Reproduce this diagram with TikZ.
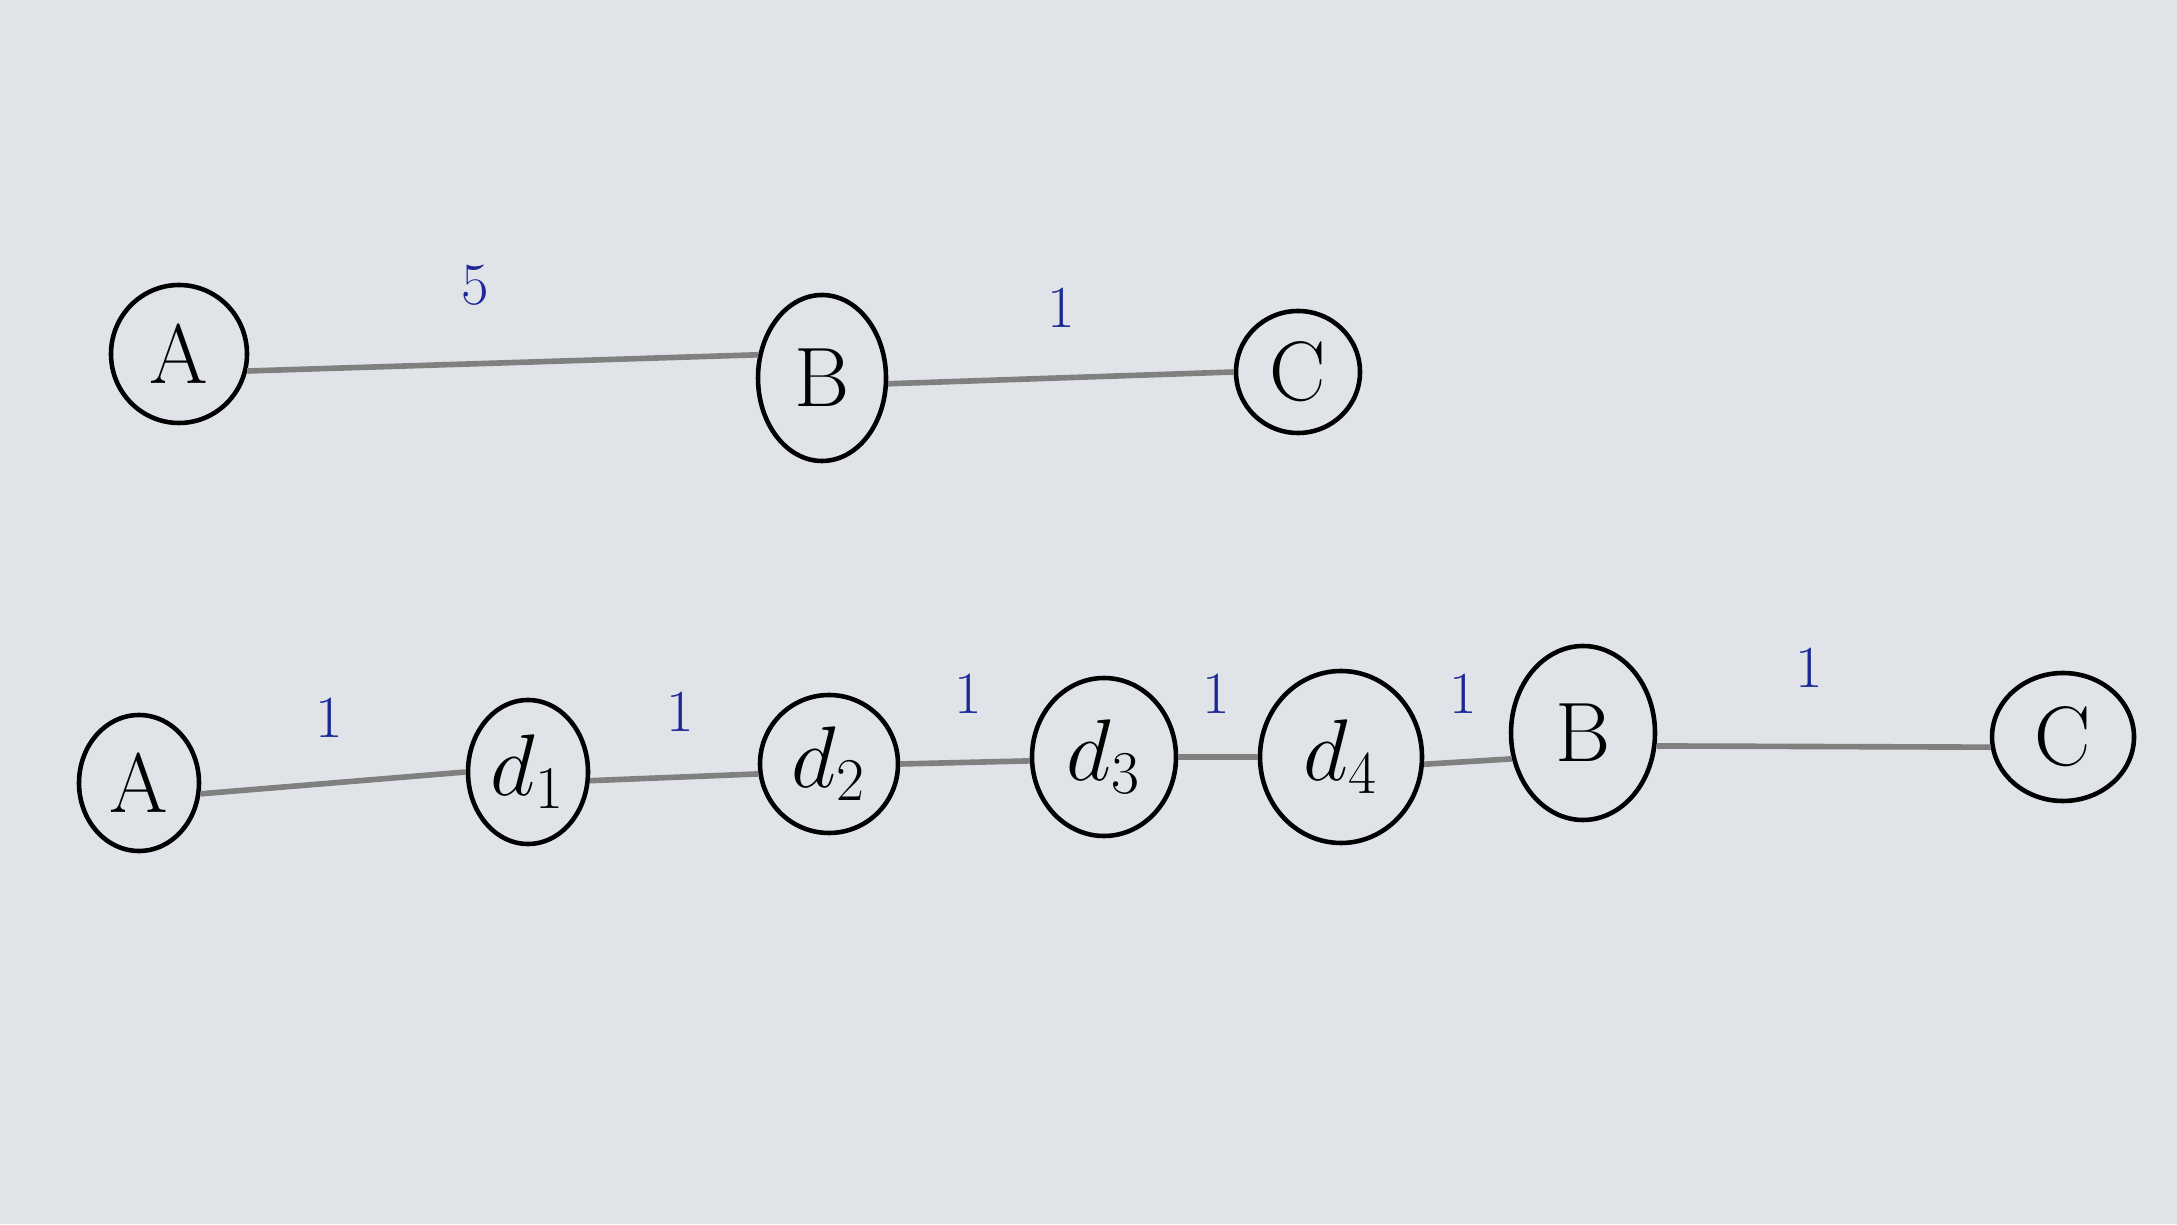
\documentclass[tikz,border=0pt]{standalone}
\usepackage{xcolor}
\usepackage{tikz}
\usetikzlibrary{shapes.geometric}

\definecolor{paper}{RGB}{224,227,232}
\definecolor{ink}{RGB}{28,40,150}
\definecolor{pencil}{RGB}{128,128,128}

\begin{document}
\begin{tikzpicture}[
  vtx/.style={draw, ellipse, line width=1.3pt, inner sep=0pt, font=\fontsize{24}{28}\selectfont},
  wgt/.style={text=ink, font=\fontsize{17}{20}\selectfont},
  edg/.style={draw=pencil, line width=1.6pt}
]
  \fill[paper] (0,0) rectangle (21.77,12.24);
  \useasboundingbox (0,0) rectangle (21.77,12.24);

  % top graph
  \node[vtx, minimum width=1.36cm, minimum height=1.38cm] (ta) at (1.79,8.70) {A};
  \node[vtx, minimum width=1.28cm, minimum height=1.66cm] (tb) at (8.22,8.46) {B};
  \node[vtx, minimum width=1.24cm, minimum height=1.22cm] (tc) at (12.98,8.52) {C};
  \draw[edg] (ta.346) -- (tb.160);
  \draw[edg] (tb.355) -- (tc.180);
  \node[wgt] (w5) at (4.75,9.39) {5};
  \node[wgt] (w1) at (10.61,9.16) {1};

  % bottom graph
  \node[vtx, minimum width=1.20cm, minimum height=1.36cm] (ba) at (1.39,4.41) {A};
  \node[vtx, minimum width=1.20cm, minimum height=1.44cm] (d1) at (5.28,4.52) {$d_1$};
  \node[vtx, minimum width=1.38cm, minimum height=1.38cm] (d2) at (8.29,4.60) {$d_2$};
  \node[vtx, minimum width=1.44cm, minimum height=1.58cm] (d3) at (11.04,4.67) {$d_3$};
  \node[vtx, minimum width=1.62cm, minimum height=1.72cm] (d4) at (13.41,4.67) {$d_4$};
  \node[vtx, minimum width=1.44cm, minimum height=1.74cm] (bb) at (15.83,4.91) {B};
  \node[vtx, minimum width=1.42cm, minimum height=1.28cm] (bc) at (20.63,4.87) {C};
  \draw[edg] (ba.350) -- (d1.180);
  \draw[edg] (d1.352) -- (d2.188);
  \draw[edg] (d2.0) -- (d3.183);
  \draw[edg] (d3.0) -- (d4.180);
  \draw[edg] (d4.355) -- (bb.200);
  \draw[edg] (bb.350) -- (bc.188);
  \node[wgt] (wa) at (3.29,5.06) {1};
  \node[wgt] (wb) at (6.80,5.12) {1};
  \node[wgt] (wc) at (9.68,5.30) {1};
  \node[wgt] (wd) at (12.16,5.30) {1};
  \node[wgt] (we) at (14.63,5.30) {1};
  \node[wgt] (wf) at (18.09,5.56) {1};
\end{tikzpicture}
\end{document}
